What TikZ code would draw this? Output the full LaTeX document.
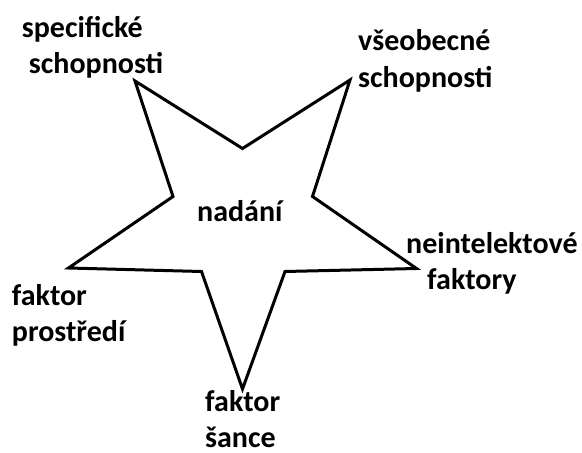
\documentclass[tikz,border=0pt]{standalone}
\usepackage{fontspec}
\setmainfont{Carlito}
\newcommand{\twolines}[3][0pt]{\vtop{\hbox{#2}\hbox{\hspace*{#1}#3}}}
\begin{document}
\begin{tikzpicture}[x=1pt,y=-1pt,
  label/.style={anchor=base west,inner sep=0pt,font=\fontsize{30}{36.5}\selectfont\bfseries},
  starline/.style={draw=black,line width=3pt,line join=miter}]
\useasboundingbox (0,0) rectangle (582,453);
% star outline: tips and inner corners
\coordinate (t1) at (135,81);
\coordinate (i1) at (242.5,148.5);
\coordinate (t2) at (350,80);
\coordinate (i2) at (312.5,196.5);
\coordinate (t3) at (416.5,268.5);
\coordinate (i3) at (285,271.5);
\coordinate (t4) at (242.5,389);
\coordinate (i4) at (201.5,271.5);
\coordinate (t5) at (68.5,268);
\coordinate (i5) at (173,196.5);
\draw[starline] (t1) -- (i1) -- (t2) -- (i2) -- (t3) -- (i3) -- (t4) -- (i4) -- (t5) -- (i5) -- cycle;
% labels
\node[label] (spec) at (21.7,37) {\twolines[7pt]{specifické}{schopnosti}};
\node[label] (vseo) at (358,50.5) {\twolines{všeobecné}{schopnosti}};
\node[label] (nadani) at (197,221.7) {nadání};
\node[label] (neint) at (406,253) {\twolines[21pt]{neintelektové}{faktory}};
\node[label] (prostr) at (11.7,305) {\twolines{faktor}{prostředí}};
\node[label] (sance) at (205,411) {\twolines[0pt]{faktor}{šance}};
\end{tikzpicture}
\end{document}
